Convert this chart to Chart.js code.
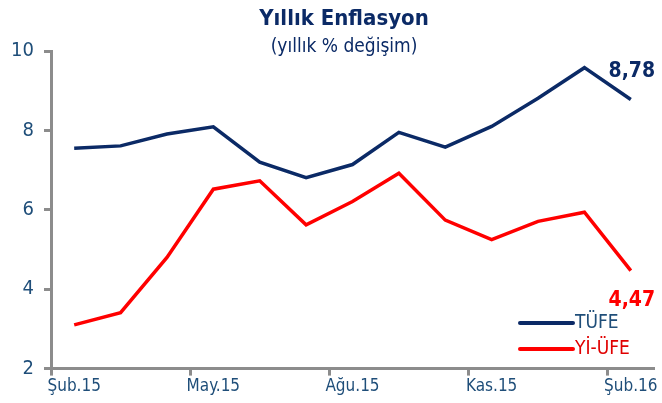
<!DOCTYPE html>
<html>
<head>
<meta charset="utf-8">
<script src="https://cdn.jsdelivr.net/npm/chart.js@4"></script>
<style>
  html, body { margin: 0; padding: 0; background: #fff; }
  #wrap { width: 662px; height: 403px; }
</style>
</head>
<body>
<div id="wrap"><canvas id="myChart" width="662" height="403"></canvas></div>
<script>
// months Şub.15 .. Şub.16
var aylar = ["Şub.15","Mar.15","Nis.15","May.15","Haz.15","Tem.15","Ağu.15","Eyl.15","Eki.15","Kas.15","Ara.15","Oca.16","Şub.16"];
var tufe  = [7.55, 7.61, 7.91, 8.09, 7.20, 6.81, 7.14, 7.95, 7.58, 8.10, 8.81, 9.58, 8.78];
var yiufe = [3.10, 3.41, 4.80, 6.52, 6.73, 5.62, 6.21, 6.92, 5.74, 5.25, 5.71, 5.94, 4.47];
var yTicks = [2, 4, 6, 8, 10];

var fontAd = "'DejaVu Sans Condensed', 'DejaVu Sans', sans-serif";
var lacivert = "#0b2a66";
var kirmizi = "#ff0000";
var yaziMavi = "#1f4e79";
var gri = "#8c8c8c";

// baslik, son deger etiketi + legend
var ekstra = {
  id: 'ekstra',
  afterDraw: function(chart) {
    var c = chart.ctx;
    c.save();
    c.textAlign = "center";
    c.textBaseline = "middle";
    c.fillStyle = lacivert;
    c.font = "bold 22px " + fontAd;
    c.fillText("Yıllık Enflasyon", 344, 19);
    c.font = "19px " + fontAd;
    c.fillText("(yıllık % değişim)", 344, 47);

    c.font = "bold 21px " + fontAd;
    var p1 = chart.getDatasetMeta(0).data[tufe.length - 1];
    c.fillStyle = lacivert;
    c.fillText(String(tufe[tufe.length - 1]).replace(".", ","), p1.x + 1, p1.y - 28);
    var p2 = chart.getDatasetMeta(1).data[yiufe.length - 1];
    c.fillStyle = kirmizi;
    c.fillText(String(yiufe[yiufe.length - 1]).replace(".", ","), p2.x + 1, p2.y + 30);

    // legend
    var items = [
      {t: "TÜFE", line: lacivert, txt: yaziMavi},
      {t: "Yİ-ÜFE", line: kirmizi, txt: "#e00000"}
    ];
    c.textAlign = "left";
    c.font = "19px " + fontAd;
    c.lineCap = "round";
    items.forEach(function(it, i) {
      var y = 323 + i * 26;
      c.strokeStyle = it.line;
      c.lineWidth = 4;
      c.beginPath();
      c.moveTo(520, y);
      c.lineTo(573, y);
      c.stroke();
      c.fillStyle = it.txt;
      c.fillText(it.t, 575, y);
    });
    c.restore();
  }
};

var ctx = document.getElementById('myChart').getContext('2d');
var myChart = new Chart(ctx, {
  type: 'line',
  data: {
    labels: aylar,
    datasets: [{
      label: "TÜFE",
      data: tufe,
      borderColor: lacivert,
      backgroundColor: lacivert,
      borderWidth: 3.5,
      pointRadius: 0,
      tension: 0
    }, {
      label: "Yİ-ÜFE",
      data: yiufe,
      borderColor: kirmizi,
      backgroundColor: kirmizi,
      borderWidth: 3.5,
      pointRadius: 0,
      tension: 0
    }]
  },
  options: {
    responsive: false,
    animation: false,
    layout: { padding: { left: 0, right: 8, top: 51, bottom: 5 } },
    plugins: {
      legend: { display: false },
      tooltip: { enabled: false },
      title: { display: false },
      subtitle: { display: false }
    },
    scales: {
      x: {
        offset: true,
        grid: {
          offset: true,
          drawOnChartArea: false,
          drawTicks: true,
          tickLength: 7,
          tickWidth: 3,
          tickColor: function(c) { return c.index % 3 === 0 ? gri : 'rgba(0,0,0,0)'; }
        },
        border: { color: gri, width: 3 },
        ticks: {
          autoSkip: false,
          maxRotation: 0,
          padding: 1,
          color: yaziMavi,
          font: { family: fontAd, size: 17 },
          callback: function(v, i) { return i % 3 === 0 ? aylar[i] : ""; }
        }
      },
      y: {
        min: 2,
        max: 10,
        afterBuildTicks: function(s) { s.ticks = yTicks.map(function(v) { return {value: v}; }); },
        afterFit: function(s) { s.width = 51; },
        grid: {
          drawOnChartArea: false,
          drawTicks: true,
          tickLength: 7,
          tickWidth: 3,
          color: gri
        },
        border: { color: gri, width: 3 },
        ticks: {
          padding: 10,
          color: yaziMavi,
          font: { family: fontAd, size: 20 }
        }
      }
    }
  },
  plugins: [ekstra]
});
</script>
</body>
</html>
